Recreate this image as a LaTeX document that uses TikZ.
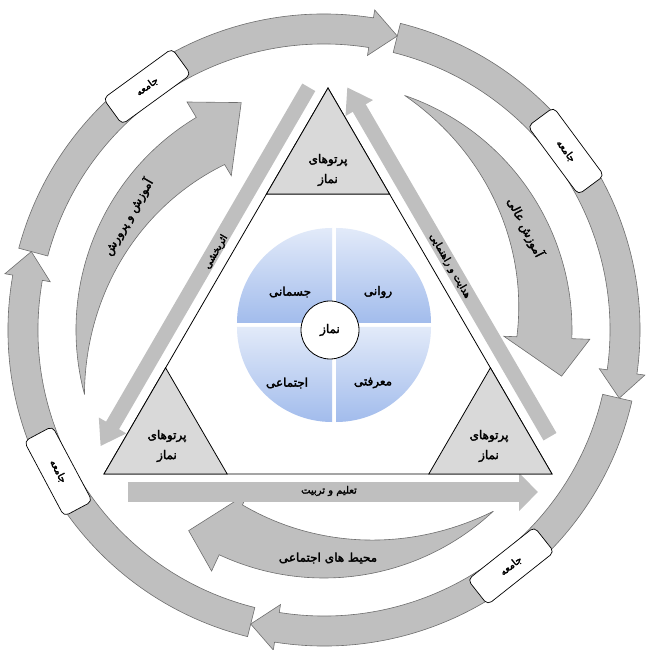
\documentclass[tikz,border=0pt]{standalone}
\usepackage{fontspec}
\newfontfamily\fa[Script=Arabic,FakeBold=2.6]{DejaVu Sans}
\TeXXeTstate=1
\usepackage{tikz}
\usetikzlibrary{
	arrows.meta,
	calc
}
\usepackage{xcolor}
\definecolor{ringgray}{HTML}{BFBFBF}
\definecolor{trigray}{HTML}{D9D9D9}
\definecolor{edgegray}{HTML}{6E6E6E}
\definecolor{qlight}{HTML}{E2EAF9}
\definecolor{qdark}{HTML}{A2BCEC}

\begin{document}
\begin{tikzpicture}[x=1pt,y=1pt,
	ringseg/.style={fill=ringgray,draw=edgegray,line width=0.6pt},
	sweep/.style={fill=ringgray,draw=edgegray,line width=0.6pt},
	band/.style={draw=ringgray,line width=15pt},
	tag/.style={draw=black,fill=white,line width=0.7pt,rounded corners=5pt,
		minimum width=85pt,minimum height=32pt,inner sep=0pt,
		font=\fa\fontsize{10}{12}\selectfont},
	lbl/.style={font=\fa\fontsize{12}{20}\selectfont,align=center,inner sep=0pt},
	small/.style={font=\fa\fontsize{10}{12}\selectfont,inner sep=0pt},
	quad/.style={top color=qlight,bottom color=qdark}]
		
		\useasboundingbox (-324,-320) rectangle (321,330);
		
		% outer ring of arrows
		\foreach \st/\hd/\tp in {165/81/76, 76/-8/-13, -13/-99/-104, 256/170/165}
		\filldraw[ringseg] (\st:316) arc[start angle=\st,end angle=\hd,radius=316]
		-- (\hd:324) -- (\tp:303) -- (\hd:278) -- (\hd:286)
		arc[start angle=\hd,end angle=\st,radius=286] -- cycle;
		
		% society boxes
		\foreach \a/\r [count=\i] in {126/36, 36.5/-53.5, -51.6/38.4, 208/-62}
		\node[tag,rotate=\r] (soc\i) at (\a:301) {\beginR جامعه\endR};
		
		% curved arrows
		\foreach \tl/\bs/\tp in {195/121/110, 71/-2/-11, -47/-115/-124}
		\filldraw[sweep] (\tl:248) arc[start angle=\tl,end angle=\bs,radius=248]
		-- (\bs:266) -- (\tp:242) -- (\bs:180) -- (\bs:193)
		-- plot[domain=\bs:\tl,samples=40,smooth]
		(\x:{193+55*((\x-(\bs))/(\tl-(\bs)))*(0.4+0.6*((\x-(\bs))/(\tl-(\bs))))})
		-- cycle;
		
		\node[lbl,rotate=60] (edu) at (150:226) {\beginR آموزش و پرورش\endR};
		\node[lbl,rotate=-63] (high) at (27:226) {\beginR آموزش عالی\endR};
		\node[lbl] (env) at (-89:228) {\beginR محیط های اجتماعی\endR};
		
		% straight arrows
		\coordinate (lb0) at (-15.2,242.7);
		\coordinate (lb1) at (-223.5,-116.2);
		\coordinate (rb0) at (226,-106.7);
		\coordinate (rb1) at (23.2,242.7);
		\coordinate (bb0) at (-196,-162);
		\coordinate (bb1) at (214,-162);
		\draw[band,-{Triangle[length=24pt,width=30pt]}] (lb0) -- (lb1);
		\draw[band,-{Triangle[length=24pt,width=30pt]}] (rb0) -- (rb1);
		\draw[band,line width=20pt,-{Triangle[length=19pt,width=37pt]}] (bb0) -- (bb1);
		
		\node[small,rotate=60] (eff) at (-108,78) {\beginR اثربخشی\endR};
		\node[small,rotate=-60] (guide) at (126,64) {\beginR هدایت و راهنمایی\endR};
		\node[small] (teach) at (5,-161) {\beginR تعلیم و تربیت\endR};
		
		% triangle
		\coordinate (top) at (4,242);
		\coordinate (bl) at (-220,-144);
		\coordinate (br) at (228,-144);
		\draw[fill=white,line width=0.8pt] (top) -- (bl) -- (br) -- cycle;
		\draw[fill=trigray,line width=0.8pt] (top) -- ($(top)!.275!(bl)$) -- ($(top)!.275!(br)$) -- cycle;
		\draw[fill=trigray,line width=0.8pt] (bl) -- ($(bl)!.275!(top)$) -- ($(bl)!.275!(br)$) -- cycle;
		\draw[fill=trigray,line width=0.8pt] (br) -- ($(br)!.275!(top)$) -- ($(br)!.275!(bl)$) -- cycle;
		
		\node[lbl] (ptop) at (4,160) {\beginR پرتوهای\endR\\\beginR نماز\endR};
		\node[lbl] (pleft) at (-157,-116) {\beginR پرتوهای\endR\\\beginR نماز\endR};
		\node[lbl] (pright) at (165,-116) {\beginR پرتوهای\endR\\\beginR نماز\endR};
		
		% four aspects
		\coordinate (q) at (10,5);
		\foreach \a/\dx/\dy in {0/2/2, 90/-2/2, 180/-2/-2, 270/2/-2}
		\shade[quad] ($(q)+(\dx,\dy)$) -- ++(\a:95) arc[start angle=\a,end angle=\a+90,radius=95] -- cycle;
		
		\node[lbl] (body) at (-34,38) {\beginR جسمانی\endR};
		\node[lbl] (psy) at (54,38) {\beginR روانی\endR};
		\node[lbl] (soc) at (-37,-53) {\beginR اجتماعی\endR};
		\node[lbl] (know) at (49,-53) {\beginR معرفتی\endR};
		
		\node[lbl,draw,circle,fill=white,line width=0.8pt,minimum size=58pt] (core) at (6,0) {\beginR نماز\endR};
		
	\end{tikzpicture}
\end{document}
